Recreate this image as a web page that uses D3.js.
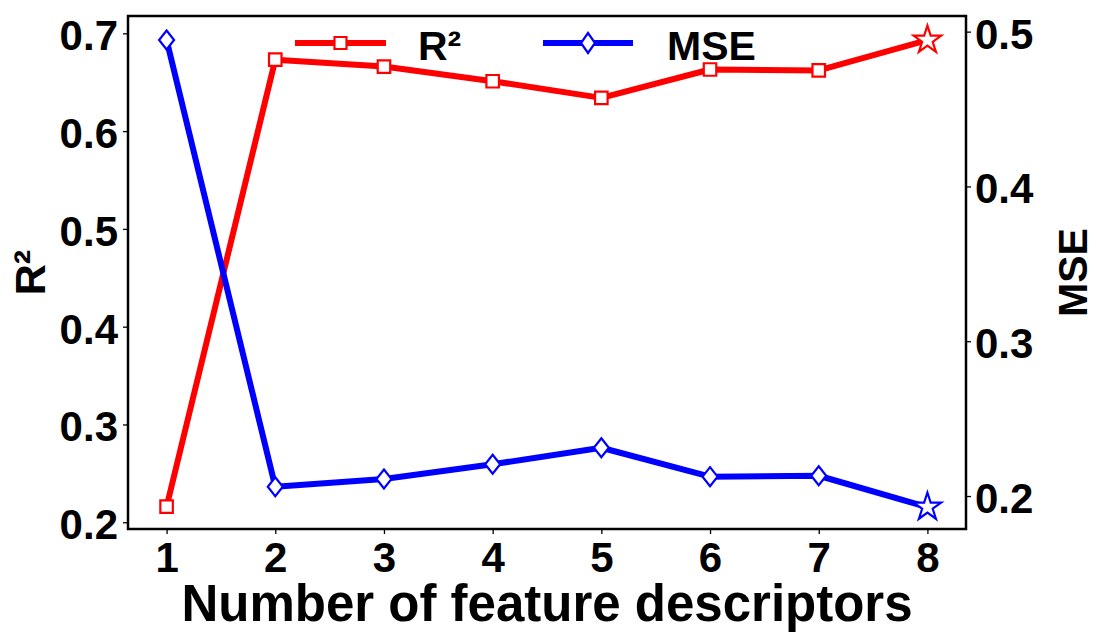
<!DOCTYPE html>
<html>
<head>
<meta charset="utf-8">
<script src="https://cdn.jsdelivr.net/npm/d3@7"></script>
<style>
  html, body { margin: 0; padding: 0; background: #fff; }
  svg text { font-family: "Liberation Sans", Arial, sans-serif; font-weight: bold; fill: #000; }
</style>
</head>
<body>
<svg id="chart" width="1096" height="632"></svg>
<script>
// ---- data ----
const features = [1, 2, 3, 4, 5, 6, 7, 8];
const r2Values = [0.216, 0.673, 0.666, 0.651, 0.634, 0.663, 0.662, 0.693];
const mseValues = [0.4946, 0.206, 0.211, 0.2205, 0.2312, 0.2125, 0.2131, 0.1929];
const xTicks = [1, 2, 3, 4, 5, 6, 7, 8];
const r2Ticks = [0.2, 0.3, 0.4, 0.5, 0.6, 0.7];
const mseTicks = [0.2, 0.3, 0.4, 0.5];
const seriesNames = ["R²", "MSE"];
const xLabel = "Number of feature descriptors";

// ---- layout ----
const svg = d3.select("#chart");
const L = 128, R = 966, T = 16, B = 529;
const red = "#ff0000", blue = "#0000ff";

const x = d3.scaleLinear().domain([0.645, 8.355]).range([L, R]);
const yL = d3.scaleLinear().domain([0.1931, 0.7177]).range([B, T]);
const yR = d3.scaleLinear().domain([0.1787, 0.5101]).range([B, T]);

// axes
const gx = svg.append("g").attr("transform", `translate(0,${B})`)
  .call(d3.axisBottom(x).tickValues(xTicks).tickSize(5).tickFormat(d3.format("d")));
gx.selectAll("text").attr("y", 43).attr("dy", null).style("font-size", "42px");

const gl = svg.append("g").attr("transform", `translate(${L},0)`)
  .call(d3.axisLeft(yL).tickValues(r2Ticks).tickSize(5).tickPadding(5).tickFormat(d3.format(".1f")));
gl.selectAll("text").attr("dy", "0.39em").style("font-size", "42px");

const gr = svg.append("g").attr("transform", `translate(${R},0)`)
  .call(d3.axisRight(yR).tickValues(mseTicks).tickSize(5).tickPadding(4).tickFormat(d3.format(".1f")));
gr.selectAll("text").attr("dy", "0.39em").style("font-size", "42px");

[gx, gl, gr].forEach(g => {
  g.select(".domain").remove();
  g.selectAll(".tick line").attr("stroke", "#000").attr("stroke-width", 1.3);
});

// frame
svg.append("rect").attr("x", L).attr("y", T).attr("width", R - L).attr("height", B - T)
  .attr("fill", "none").attr("stroke", "#000").attr("stroke-width", 2.5);

// labels
svg.append("text").attr("x", (L + R) / 2).attr("y", 621).attr("text-anchor", "middle")
  .style("font-size", "51px").text(xLabel);
svg.append("text").attr("transform", `translate(45,${(T + B) / 2}) rotate(-90)`)
  .attr("text-anchor", "middle").style("font-size", "43px").text(seriesNames[0]);
svg.append("text").attr("transform", `translate(1087,${(T + B) / 2}) rotate(-90)`)
  .attr("text-anchor", "middle").style("font-size", "41px").text(seriesNames[1]);

// marker paths
function squarePath(s) { const h = s / 2; return `M${-h},${-h}H${h}V${h}H${-h}Z`; }
function diamondPath(w, h) { return `M0,${-h/2}L${w/2},0L0,${h/2}L${-w/2},0Z`; }
function starPath(ro) {
  const ri = ro * 0.381966; let p = "";
  for (let i = 0; i < 10; i++) {
    const r = i % 2 === 0 ? ro : ri;
    const a = -Math.PI / 2 + i * Math.PI / 5;
    p += (i === 0 ? "M" : "L") + (r * Math.cos(a)).toFixed(2) + "," + (r * Math.sin(a)).toFixed(2);
  }
  return p + "Z";
}

function drawSeries(vals, yScale, color, markerFn) {
  const line = d3.line().x((d, i) => x(features[i])).y(d => yScale(d));
  svg.append("path").datum(vals).attr("d", line).attr("fill", "none")
    .attr("stroke", color).attr("stroke-width", 6).attr("stroke-linejoin", "round");
  svg.append("g").selectAll("path").data(vals).join("path")
    .attr("transform", (d, i) => `translate(${x(features[i])},${yScale(d)})`)
    .attr("d", (d, i) => i === vals.length - 1 ? starPath(14.5) : markerFn())
    .attr("fill", "#fff").attr("stroke", color).attr("stroke-width", 2.2)
    .attr("stroke-linejoin", "miter");
}

drawSeries(r2Values, yL, red, () => squarePath(12.5));
drawSeries(mseValues, yR, blue, () => diamondPath(15, 19));

// legend
const legend = [
  { name: seriesNames[0], color: red, x0: 295, x1: 386, tx: 418, marker: () => squarePath(12) },
  { name: seriesNames[1], color: blue, x0: 543, x1: 633, tx: 667, marker: () => diamondPath(14, 20) }
];
const lg = svg.append("g");
legend.forEach(d => {
  lg.append("line").attr("x1", d.x0).attr("x2", d.x1).attr("y1", 43).attr("y2", 43)
    .attr("stroke", d.color).attr("stroke-width", 6);
  lg.append("path").attr("transform", `translate(${(d.x0 + d.x1) / 2},43)`).attr("d", d.marker())
    .attr("fill", "#fff").attr("stroke", d.color).attr("stroke-width", 2.2);
  lg.append("text").attr("x", d.tx).attr("y", 60).style("font-size", "41px").text(d.name);
});
</script>
</body>
</html>
